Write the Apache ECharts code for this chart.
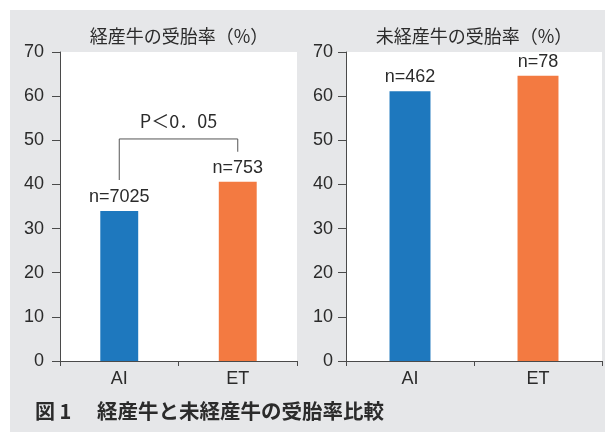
<!DOCTYPE html>
<html>
<head>
<meta charset="utf-8">
<script src="https://cdn.jsdelivr.net/npm/echarts@6/dist/echarts.min.js"></script>
<style>
  html, body { margin: 0; padding: 0; background: #fff; }
  #c { width: 605px; height: 432px; }
</style>
</head>
<body>
<div id="c"></div>
<script>
// Conception rate (%) by breeding method
const categories = ['AI', 'ET'];
const parousRates = [34.0, 40.6];     // 経産牛
const heiferRates = [61.1, 64.6];     // 未経産牛
const parousCounts = ['n=7025', 'n=753'];
const heiferCounts = ['n=462', 'n=78'];
const yTicks = [0, 10, 20, 30, 40, 50, 60, 70];
const panelTitles = ['経産牛の受胎率（%）', '未経産牛の受胎率（%）'];
const captionLead = '図 1';
const captionText = '経産牛と未経産牛の受胎率比較';
const sigText = 'P＜0．05';
// significance bracket levels on the value axis: top, left foot, right foot, label
const bracketLevels = [50.3, 41.0, 47.4, 54.3];

const barColors = ['#1e78be', '#f37a41'];
const numFont = '"Liberation Sans", Arial, sans-serif';
const jpFont = '"Noto Sans CJK JP", "Noto Sans", sans-serif';
const textColor = '#2b2b2b';
const axisColor = '#4a4a4a';

const chart = echarts.init(document.getElementById('c'));

function yAxisCfg(gridIndex, margin) {
  return {
    type: 'value', gridIndex: gridIndex,
    min: yTicks[0], max: yTicks[yTicks.length - 1], interval: 10,
    axisLine: { show: true, lineStyle: { color: axisColor, width: 1 } },
    axisTick: { show: true, length: 8, lineStyle: { color: axisColor } },
    axisLabel: { fontSize: 18, color: textColor, fontFamily: numFont, margin: margin },
    splitLine: { show: false }
  };
}
function xAxisCfg(gridIndex) {
  return {
    type: 'category', gridIndex: gridIndex, data: categories,
    axisLine: { show: true, lineStyle: { color: axisColor, width: 1 } },
    axisTick: { show: true, length: 5, inside: false, lineStyle: { color: axisColor } },
    axisLabel: { fontSize: 18, color: textColor, fontFamily: numFont, margin: 9 }
  };
}
function barSeries(idx, values, counts) {
  return {
    type: 'bar', xAxisIndex: idx, yAxisIndex: idx,
    barWidth: '32%',
    data: values.map((v, i) => ({ value: v, itemStyle: { color: barColors[i] } })),
    label: {
      show: true, position: 'top', distance: 5,
      formatter: p => counts[p.dataIndex],
      fontSize: 18, color: textColor, fontFamily: numFont
    }
  };
}

chart.setOption({
  backgroundColor: '#e6e7e9',
  animation: false,
  grid: [
    { left: 60, top: 52, width: 237, height: 309, show: true, backgroundColor: '#ffffff', borderWidth: 0, containLabel: false, outerBoundsMode: 'none' },
    { left: 346, top: 52, width: 256, height: 309, show: true, backgroundColor: '#ffffff', borderWidth: 0, containLabel: false, outerBoundsMode: 'none' }
  ],
  xAxis: [xAxisCfg(0), xAxisCfg(1)],
  yAxis: [yAxisCfg(0, 16), yAxisCfg(1, 13)],
  series: [barSeries(0, parousRates, parousCounts), barSeries(1, heiferRates, heiferCounts)]
});

// bracket and annotation positions come from the axes of the left panel
const toPx = (cat, v) => chart.convertToPixel({ xAxisIndex: 0, yAxisIndex: 0 }, [cat, v]);
const pLeftFoot = toPx(categories[0], bracketLevels[1]);
const pLeftTop = toPx(categories[0], bracketLevels[0]);
const pRightTop = toPx(categories[1], bracketLevels[0]);
const pRightFoot = toPx(categories[1], bracketLevels[2]);
const pLabel = toPx(categories[0], bracketLevels[3]);

chart.setOption({
  graphic: { elements: [
    { id: 'stripTop', type: 'rect', shape: { x: 0, y: 0, width: 605, height: 10 }, style: { fill: '#ffffff' }, silent: true },
    { id: 'stripLeft', type: 'rect', shape: { x: 0, y: 0, width: 10, height: 432 }, style: { fill: '#ffffff' }, silent: true },
    { id: 'title0', type: 'text', x: 179, y: 36,
      style: { text: panelTitles[0], fontSize: 18, fontFamily: jpFont, fill: textColor, textAlign: 'center', textVerticalAlign: 'middle' } },
    { id: 'title1', type: 'text', x: 474, y: 36,
      style: { text: panelTitles[1], fontSize: 18, fontFamily: jpFont, fill: textColor, textAlign: 'center', textVerticalAlign: 'middle' } },
    { id: 'bracket', type: 'polyline', z: 10,
      shape: { points: [pLeftFoot, pLeftTop, pRightTop, pRightFoot] },
      style: { stroke: '#555', lineWidth: 1, fill: null } },
    { id: 'sig', type: 'text', z: 10, x: (pLeftTop[0] + pRightTop[0]) / 2, y: pLabel[1],
      style: { text: sigText, fontSize: 18, fontFamily: jpFont, fill: textColor, textAlign: 'center', textVerticalAlign: 'middle' } },
    { id: 'capLead', type: 'text', x: 35, y: 411,
      style: { text: captionLead, fontSize: 20, fontWeight: 'bold', fontFamily: jpFont, fill: textColor, textAlign: 'left', textVerticalAlign: 'middle' } },
    { id: 'capText', type: 'text', x: 97, y: 411,
      style: { text: captionText, fontSize: 20.5, fontWeight: 'bold', fontFamily: jpFont, fill: textColor, textAlign: 'left', textVerticalAlign: 'middle' } }
  ] }
});
</script>
</body>
</html>
